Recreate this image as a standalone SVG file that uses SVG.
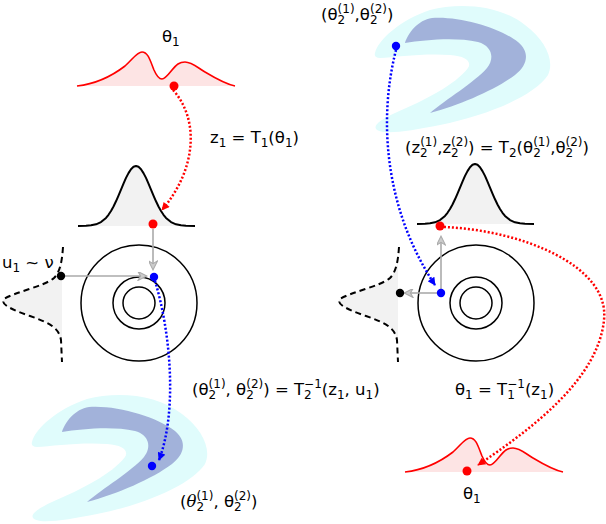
<svg xmlns="http://www.w3.org/2000/svg" xmlns:xlink="http://www.w3.org/1999/xlink" width="606" height="524" viewBox="0 0 606 524">
<style>
.t{font-family:"DejaVu Sans","Liberation Sans",sans-serif;font-size:16.5px;fill:#000}
.s{font-size:12px}
.gauss{fill:#f2f2f2;stroke:none}
.gline{fill:none;stroke:#000;stroke-width:2;stroke-linejoin:round}
.dash{fill:none;stroke:#000;stroke-width:2;stroke-dasharray:6 4}
.dfill{fill:#f2f2f2;stroke:none}
.circ{fill:none;stroke:#000;stroke-width:1.5}
.bimod{fill:#fde4e4;stroke:none}
.bline{fill:none;stroke:#f00;stroke-width:1.6}
.outer{fill:#e0fcfc}
.inner{fill:#a2b2da}
.rdot{fill:none;stroke:#f00;stroke-width:2.5;stroke-dasharray:2 2}
.bdot{fill:none;stroke:#00f;stroke-width:2.5;stroke-dasharray:2 2}
.garr{fill:none;stroke:#aaa;stroke-width:1.6}
</style>
<defs>
<marker id="ar" viewBox="0 0 10 10" refX="9" refY="5" markerUnits="userSpaceOnUse" markerWidth="10" markerHeight="8" orient="auto"><path d="M0,0 L10,5 L0,10 z" fill="#f00"/></marker>
<marker id="ab" viewBox="0 0 10 10" refX="9" refY="5" markerUnits="userSpaceOnUse" markerWidth="10" markerHeight="8" orient="auto"><path d="M0,0 L10,5 L0,10 z" fill="#00f"/></marker>
<marker id="ag" viewBox="0 0 10 10" refX="9" refY="5" markerUnits="userSpaceOnUse" markerWidth="11" markerHeight="9" orient="auto"><path d="M0,0 L10,5 L0,10 L3,5 z" fill="#ccc" stroke="#aaa" stroke-width="1.2"/></marker>
<path id="gpath" d="M78,226 L86,225.8 91,225.3 96,224.3 101,222.1 106,217.9 108.5,214.8 111,211 113.5,206.5 116,201.3 118.5,195.6 121,189.6 123.5,183.6 126,177.9 128.5,173.1 131,169.2 133.5,166.8 136,166 138.5,166.8 141,169.2 143.5,173.1 146,177.9 148.5,183.6 151,189.6 153.5,195.6 156,201.3 158.5,206.5 161,211 163.5,214.8 166,217.9 171,222.1 176,224.3 181,225.3 186,225.8 195,226"/>
<g id="gaussShape">
<use xlink:href="#gpath" class="gauss"/>
<use xlink:href="#gpath" class="gline"/>
</g>
<path id="dpath" d="M63,247 C62,262 60,272 54,278 C45,286 15,292 4,299 C0,304 10,309 30,316 C50,323 59,328 61,340 L62,362"/>
<g id="dashShape">
<path class="dfill" d="M62,262 C60,272 54,278 54,278 C45,286 15,292 4,299 C0,304 10,309 30,316 C50,323 59,328 61,340 L62,345 Z"/>
<use xlink:href="#dpath" class="dash"/>
</g>
<path id="bpath" d="M77,86 C95,84 112,76 125,66 C133,59 137,52 142,52 C148,52 150,60 154,70 C157,77 159,79 162,79 C167,79 172,68 178,64 C181,62 183,62 185,62 C192,62 198,68 205,72 C215,78 225,84 235,86"/>
<g id="bimodShape">
<path class="bimod" d="M77,86 C95,84 112,76 125,66 C133,59 137,52 142,52 C148,52 150,60 154,70 C157,77 159,79 162,79 C167,79 172,68 178,64 C181,62 183,62 185,62 C192,62 198,68 205,72 C215,78 225,84 235,86 Z"/>
<use xlink:href="#bpath" class="bline"/>
</g>
<g id="banana">
<path class="outer" d="M375,53 C378,40 400,20 430,10 C460,2 500,5 525,25 C545,40 555,60 548,75 C535,95 490,115 440,125 C410,131 385,135 377,130 C372,126 380,120 395,113 C425,100 455,85 468,68 C472,62 466,56 450,55 C425,53 395,57 380,58 C376,58 374,56 375,53 Z"/>
<path class="inner" d="M405,43 C408,33 418,20 432,18 C460,16 500,28 518,42 C530,52 528,65 515,75 C495,90 460,105 430,113 C445,100 475,82 487,68 C495,58 492,46 478,42 C455,37 425,40 405,43 Z"/>
</g>
<g id="rings">
<circle class="circ" cx="139" cy="303" r="58"/>
<circle class="circ" cx="139" cy="303" r="26"/>
<circle class="circ" cx="139" cy="303" r="16"/>
</g>
</defs>

<g id="banana-top-right"><use xlink:href="#banana"/></g>
<g id="banana-bottom-left"><use xlink:href="#banana" transform="translate(-343,389)"/></g>
<g id="theta1-prior-top"><use xlink:href="#bimodShape"/></g>
<g id="theta1-prior-bottom"><use xlink:href="#bimodShape" transform="translate(328,386)"/></g>
<g id="z1-gauss-left"><use xlink:href="#gaussShape"/></g>
<g id="z1-gauss-right"><use xlink:href="#gaussShape" transform="translate(339,-2)"/></g>
<g id="nu-left"><use xlink:href="#dashShape"/></g>
<g id="nu-right"><use xlink:href="#dashShape" transform="translate(336,0)"/></g>
<g id="rings-left"><use xlink:href="#rings"/></g>
<g id="rings-right"><use xlink:href="#rings" transform="translate(337,0)"/></g>

<g id="connectors">
<path class="rdot" d="M173,90 C200,120 196,170 162,210" marker-end="url(#ar)"/>
<path class="rdot" d="M444,227 C520,230 610,265 604,320 C598,380 530,430 478,465" marker-end="url(#ar)"/>
<path class="bdot" d="M155,281 C170,330 178,410 159,460" marker-end="url(#ab)"/>
<path class="bdot" d="M396,50 C378,120 385,210 435,285" marker-end="url(#ab)"/>
<line class="garr" x1="153" y1="229" x2="153" y2="269" marker-end="url(#ag)"/>
<line class="garr" x1="65" y1="276" x2="146" y2="276" marker-end="url(#ag)"/>
<line class="garr" x1="441" y1="289" x2="441" y2="237" marker-end="url(#ag)"/>
<line class="garr" x1="437" y1="293" x2="405" y2="293" marker-end="url(#ag)"/>
</g>

<g id="points">
<circle cx="174" cy="86" r="4.5" fill="#f00"/>
<circle cx="153" cy="224" r="4.5" fill="#f00"/>
<circle cx="440" cy="226" r="4.5" fill="#f00"/>
<circle cx="467" cy="471" r="4.5" fill="#f00"/>
<circle cx="154" cy="277" r="4.2" fill="#00f"/>
<circle cx="152" cy="466" r="4.2" fill="#00f"/>
<circle cx="396" cy="46" r="4.2" fill="#00f"/>
<circle cx="441" cy="293" r="4.2" fill="#00f"/>
<circle cx="61" cy="276" r="4.2" fill="#000"/>
<circle cx="400" cy="293" r="4.2" fill="#000"/>
</g>

<g id="labels">
<text class="t" x="162" y="42">θ<tspan class="s" dy="4">1</tspan></text>
<text class="t" x="210" y="143">z<tspan class="s" dy="4">1</tspan><tspan dy="-4"> = T</tspan><tspan class="s" dy="4">1</tspan><tspan dy="-4">(θ</tspan><tspan class="s" dy="4">1</tspan><tspan dy="-4">)</tspan></text>
<text class="t" x="321" y="20">(θ<tspan class="s" dy="4">2</tspan><tspan class="s" dx="-7.6" dy="-11">(1)</tspan><tspan dy="7">,θ</tspan><tspan class="s" dy="4">2</tspan><tspan class="s" dx="-7.6" dy="-11">(2)</tspan><tspan dy="7">)</tspan></text>
<text class="t" x="405" y="153">(z<tspan class="s" dy="4">2</tspan><tspan class="s" dx="-7.6" dy="-11">(1)</tspan><tspan dy="7">,z</tspan><tspan class="s" dy="4">2</tspan><tspan class="s" dx="-7.6" dy="-11">(2)</tspan><tspan dy="7">) = T</tspan><tspan class="s" dy="4">2</tspan><tspan dy="-4">(θ</tspan><tspan class="s" dy="4">2</tspan><tspan class="s" dx="-7.6" dy="-11">(1)</tspan><tspan dy="7">,θ</tspan><tspan class="s" dy="4">2</tspan><tspan class="s" dx="-7.6" dy="-11">(2)</tspan><tspan dy="7">)</tspan></text>
<text class="t" x="2" y="268">u<tspan class="s" dy="4">1</tspan><tspan dy="-4"> ~ ν</tspan></text>
<text class="t" x="192" y="395">(θ<tspan class="s" dy="4">2</tspan><tspan class="s" dx="-7.6" dy="-11">(1)</tspan><tspan dy="7">, θ</tspan><tspan class="s" dy="4">2</tspan><tspan class="s" dx="-7.6" dy="-11">(2)</tspan><tspan dy="7">) = T</tspan><tspan class="s" dy="4">2</tspan><tspan class="s" dx="-7.6" dy="-11">−1</tspan><tspan dy="7">(z</tspan><tspan class="s" dy="4">1</tspan><tspan dy="-4">, u</tspan><tspan class="s" dy="4">1</tspan><tspan dy="-4">)</tspan></text>
<text class="t" x="455" y="395">θ<tspan class="s" dy="4">1</tspan><tspan dy="-4"> = T</tspan><tspan class="s" dy="4">1</tspan><tspan class="s" dx="-7.6" dy="-11">−1</tspan><tspan dy="7">(z</tspan><tspan class="s" dy="4">1</tspan><tspan dy="-4">)</tspan></text>
<text class="t" x="463" y="499">θ<tspan class="s" dy="4">1</tspan></text>
<text class="t" x="180" y="507">(<tspan font-family="DejaVu Serif,serif" font-style="italic">θ</tspan><tspan class="s" dy="4">2</tspan><tspan class="s" dx="-7.6" dy="-11">(1)</tspan><tspan dy="7">, θ</tspan><tspan class="s" dy="4">2</tspan><tspan class="s" dx="-7.6" dy="-11">(2)</tspan><tspan dy="7">)</tspan></text>
</g>
</svg>
